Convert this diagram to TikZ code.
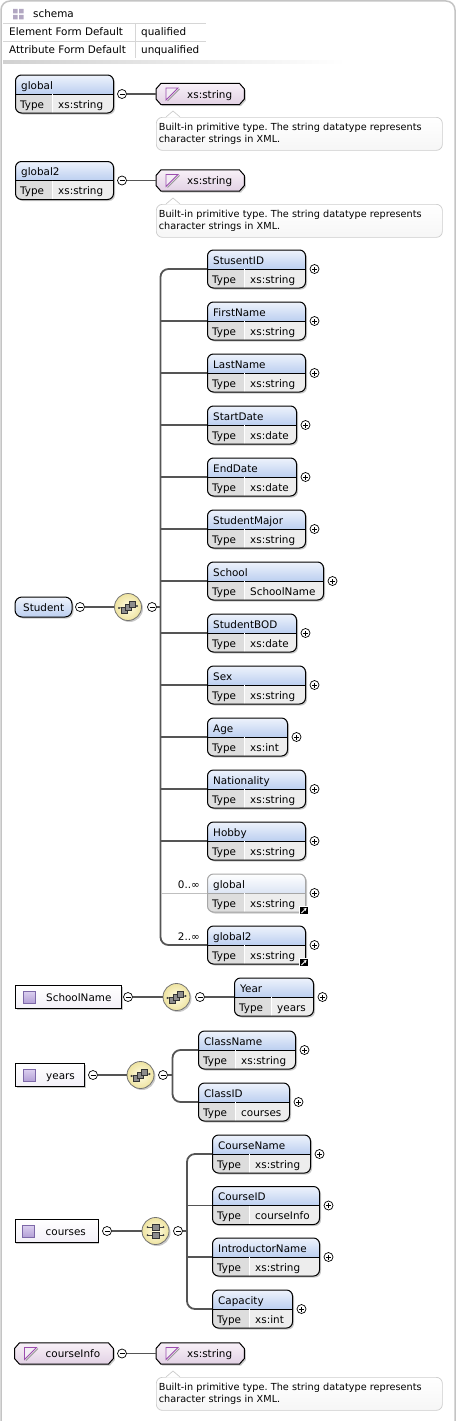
\documentclass[tikz,border=0pt]{standalone}
\usepackage{fontspec}
\setmainfont{DejaVu Sans}
\usepackage{tikz}
\usetikzlibrary{arrows.meta,shadows}
\frenchspacing

\definecolor{headtop}{HTML}{EEF3FC}
\definecolor{headbot}{HTML}{BCCFF0}
\definecolor{refbot}{HTML}{DCE5F4}
\definecolor{typecell}{HTML}{DDDDDD}
\definecolor{valcell}{HTML}{EDEDED}
\definecolor{conngray}{HTML}{555555}
\definecolor{hextop}{HTML}{F8F1F8}
\definecolor{hexbot}{HTML}{E2D1E4}
\definecolor{tripurple}{HTML}{9B4DAE}
\definecolor{cticontop}{HTML}{DCD0F0}
\definecolor{cticonbot}{HTML}{B3A0D6}
\definecolor{cticonline}{HTML}{7D68A8}
\definecolor{ctbot}{HTML}{F3F0F8}
\definecolor{tipline}{HTML}{CCCCCC}
\definecolor{tipbot}{HTML}{F6F6F6}
\definecolor{framegray}{HTML}{C4C4C4}
\definecolor{tablegray}{HTML}{D6D6D6}
\definecolor{compin}{HTML}{FFFCE4}
\definecolor{compout}{HTML}{EEE3A0}
\definecolor{schemaicon}{HTML}{B2A7C2}

\tikzset{
  mydrop/.style={drop shadow={shadow xshift=1.5pt, shadow yshift=-1.5pt, opacity=.35, fill=black!60}},
  lbl/.style={anchor=base west, inner sep=0pt},
  elembase/.style 2 args={draw=black, line width=1pt, rounded corners=6pt, minimum height=38pt,
    inner sep=0pt, anchor=west, mydrop,
    path picture={
      \fill[typecell, sharp corners] (path picture bounding box.south west) rectangle ([xshift=37pt]path picture bounding box.west);
      \fill[valcell, sharp corners] ([xshift=37pt]path picture bounding box.south west) rectangle (path picture bounding box.east);
      \shade[top color=#1, bottom color=#2, sharp corners] (path picture bounding box.north west) rectangle (path picture bounding box.east);
      \draw[line width=.8pt] (path picture bounding box.west) -- (path picture bounding box.east);
      \draw[white, line width=1pt] ([xshift=37pt]path picture bounding box.west) -- ([xshift=37pt]path picture bounding box.south west);
    }},
  elembox/.style={elembase={headtop}{headbot}},
  refbox/.style={elembase={white}{refbot}, draw=black!35},
  pill/.style={draw=black, line width=1pt, rounded corners=7pt, minimum height=20pt, inner sep=0pt,
    anchor=west, top color=headtop, bottom color=headbot, mydrop},
  simple/.style={minimum height=21pt, inner sep=0pt, anchor=west},
  hexline/.style={draw=black, line width=1pt, top color=hextop, bottom color=hexbot, mydrop},
  ctbox/.style={draw=black, line width=.9pt, minimum height=23pt, inner sep=0pt, anchor=west,
    top color=white, bottom color=ctbot, mydrop},
  cticon/.style={draw=cticonline, line width=.6pt, minimum size=12pt, inner sep=0pt,
    top color=cticontop, bottom color=cticonbot},
  sign/.style={circle, draw=black, line width=.7pt, fill=white, minimum size=9pt, inner sep=0pt},
  collapse/.style={sign, path picture={
      \draw[line width=.7pt] ([xshift=-2.5pt]path picture bounding box.center) -- ([xshift=2.5pt]path picture bounding box.center);}},
  expand/.style={sign, path picture={
      \draw[line width=.7pt] ([xshift=-2.5pt]path picture bounding box.center) -- ([xshift=2.5pt]path picture bounding box.center);
      \draw[line width=.7pt] ([yshift=-2.5pt]path picture bounding box.center) -- ([yshift=2.5pt]path picture bounding box.center);}},
  compositor/.style={circle, draw=black!55, line width=.8pt, minimum size=27pt, inner sep=0pt,
    inner color=compin, outer color=compout, mydrop},
  shortcut/.style={fill=black, draw=white, line width=.6pt, minimum size=8.5pt, inner sep=0pt, path picture={
      \draw[white, line width=.9pt, -{Stealth[length=3pt,width=3.5pt]}] ([shift={(-2.5pt,-2.5pt)}]path picture bounding box.center) -- ([shift={(2.5pt,2.5pt)}]path picture bounding box.center);}},
  tipbox/.style={draw=tipline, line width=.7pt, rounded corners=6pt, top color=white, bottom color=tipbot,
    text width=281pt, minimum height=33pt, inner xsep=2.5pt, inner ysep=0pt, align=left,
    font=\fontsize{9.7}{12}\selectfont},
  conn/.style={draw=conngray, line width=1.8pt},
  optconn/.style={draw=black!25, line width=.8pt}
}

% element box: [style]{id}{x}{y}{width}{name}{type}
\newcommand\elem[7][elembox]{%
  \node[#1, minimum width=#5pt] (#2) at (#3,#4) {};
  \node[lbl] (#2-n) at ([xshift=6pt,yshift=5pt]#2.west) {#6};
  \node[lbl] (#2-k) at ([xshift=5pt,yshift=-14pt]#2.west) {Type};
  \node[lbl] (#2-v) at ([xshift=43pt,yshift=-14pt]#2.west) {#7};
}
\newcommand\kid[7][elembox]{%
  \elem[#1]{#2}{#3}{#4}{#5}{#6}{#7}
  \node[expand] (#2-p) at ([xshift=8.5pt]#2.east) {};
}
% simple type: {id}{x}{y}{width}{name}
\newcommand\simpletype[5]{%
  \node[simple, minimum width=#4pt] (#1) at (#2,#3) {};
  \path[hexline] ([xshift=5pt]#1.north west) -- ([xshift=-5pt]#1.north east) -- ([yshift=5pt]#1.east)
    -- ([yshift=-5pt]#1.east) -- ([xshift=-5pt]#1.south east) -- ([xshift=5pt]#1.south west)
    -- ([yshift=-5pt]#1.west) -- ([yshift=5pt]#1.west) -- cycle;
  \filldraw[fill=white!60!hexbot, draw=tripurple, line width=.8pt] ([xshift=10pt,yshift=6pt]#1.west) -- ++(12pt,0) -- ++(-12pt,-12pt) -- cycle;
  \draw[black!40, line width=.8pt] ([xshift=23.5pt,yshift=5pt]#1.west) -- ([xshift=11.5pt,yshift=-7pt]#1.west);
  \node[lbl] (#1-l) at ([xshift=31pt,yshift=-4pt]#1.west) {#5};
}
% complex type: {id}{x}{y}{width}{name}
\newcommand\ctype[5]{%
  \node[ctbox, minimum width=#4pt] (#1) at (#2,#3) {};
  \node[cticon] (#1-i) at ([xshift=14pt]#1.west) {};
  \node[lbl] (#1-l) at ([xshift=31pt,yshift=-4pt]#1.west) {#5};
}
\newcommand\tipnote[3]{%
  \node[tipbox, anchor=north west] (#1) at (#2,#3) {Built-in primitive type. The string datatype represents\\character strings in XML.};
  \fill[white] ([xshift=10pt,yshift=-.6pt]#1.north west) -- ([xshift=17pt,yshift=6pt]#1.north west) -- ([xshift=24pt,yshift=-.6pt]#1.north west) -- cycle;
  \draw[tipline, line width=.7pt] ([xshift=10pt]#1.north west) -- ([xshift=17pt,yshift=6pt]#1.north west) -- ([xshift=24pt]#1.north west);
}
\newcommand\seqicon[1]{%
  \begin{scope}[shift={(#1.center)}]
    \draw[black!75, line width=.7pt] (-9,1) -- (9,-1);
    \fill[black!75] (-9,1) circle (1.2pt) (9,-1) circle (1.2pt);
    \filldraw[fill=black!45, draw=black!80, line width=.5pt] (-7,0) rectangle (-1,6);
    \filldraw[fill=black!45, draw=black!80, line width=.5pt] (-3,-3) rectangle (3,3);
    \filldraw[fill=black!45, draw=black!80, line width=.5pt] (1,-6) rectangle (7,0);
  \end{scope}}
\newcommand\allicon[1]{%
  \begin{scope}[shift={(#1.center)}]
    \draw[black!75, line width=.7pt] (-8,-4) -- (8,-4) (-8,4) -- (8,4);
    \filldraw[fill=black!45, draw=black!80, line width=.5pt] (-3.5,-7) rectangle (3.5,-1) (-3.5,1) rectangle (3.5,7);
    \fill[black!75] (-8,-4) circle (1pt) (8,-4) circle (1pt) (-8,4) circle (1pt) (8,4) circle (1pt);
  \end{scope}}

\begin{document}
\begin{tikzpicture}[x=1pt, y=-1pt, font=\fontsize{10.4}{12.5}\selectfont]
  \useasboundingbox (0,0) rectangle (458,1421);
  \draw[framegray, line width=1.5pt, rounded corners=9pt] (1,1421) -- (1,1) -- (455,1) -- (455,1421);

  % schema header
  \fill[schemaicon] (13,9) rectangle (17.5,13.5) (19,9) rectangle (23.5,13.5) (13,15) rectangle (17.5,19.5) (19,15) rectangle (23.5,19.5);
  \node[lbl] (sch) at (33,17.5) {schema};
  \draw[tablegray, line width=.8pt] (3,23.5) -- (206,23.5);
  \draw[tablegray, line width=.8pt] (3,41.5) -- (206,41.5);
  \draw[tablegray, line width=.8pt] (135,23.5) -- (135,58);
  \node[lbl] (efd) at (9,36) {Element Form Default};
  \node[lbl] (efv) at (141,36) {qualified};
  \node[lbl] (afd) at (9,54) {Attribute Form Default};
  \node[lbl] (afv) at (141,54) {unqualified};
  \shade[left color=black!18, right color=white] (3,61) rectangle (345,63.5);

  % global
  \elem{gl}{15}{94}{98}{global}{xs:string}
  \node[collapse] (gl-m) at (122,94) {};
  \simpletype{gl-t}{156}{94}{88}{xs:string}
  \draw[conn] (gl-m) -- (gl-t);
  \tipnote{gl-d}{156}{117}

  % global2
  \elem{gl2}{15}{180.5}{98}{global2}{xs:string}
  \node[collapse] (gl2-m) at (122,180.5) {};
  \simpletype{gl2-t}{156}{180.5}{88}{xs:string}
  \draw[conn] (gl2-m) -- (gl2-t);
  \tipnote{gl2-d}{156}{204}

  % Student
  \node[pill, minimum width=57pt] (stu) at (14.5,607) {};
  \node[lbl] (stu-l) at ([xshift=8.5pt,yshift=-4pt]stu.west) {Student};
  \node[collapse] (stu-m1) at (80,607) {};
  \node[compositor] (stu-c) at (128,607) {};
  \seqicon{stu-c}
  \node[collapse] (stu-m2) at (152,607) {};
  \coordinate (sp) at (160.5,607);
  \kid{sid}{207}{269}{98}{StusentID}{xs:string}
  \kid{fn}{207}{321}{98}{FirstName}{xs:string}
  \kid{ln}{207}{373}{98}{LastName}{xs:string}
  \kid{sd}{207}{425}{89}{StartDate}{xs:date}
  \kid{ed}{207}{477}{89}{EndDate}{xs:date}
  \kid{sm}{207}{529}{98}{StudentMajor}{xs:string}
  \kid{sch}{207}{581}{116}{School}{SchoolName}
  \kid{bod}{207}{633}{89}{StudentBOD}{xs:date}
  \kid{sex}{207}{685}{98}{Sex}{xs:string}
  \kid{age}{207}{737}{80}{Age}{xs:int}
  \kid{nat}{207}{789}{98}{Nationality}{xs:string}
  \kid{hob}{207}{841}{98}{Hobby}{xs:string}
  \kid[refbox]{glr}{207}{893}{98}{global}{xs:string}
  \kid{gl2r}{207}{945}{98}{global2}{xs:string}
  \node[shortcut] (glr-s) at ([xshift=-2pt,yshift=2pt]glr.south east) {};
  \node[shortcut] (gl2r-s) at ([xshift=-2pt,yshift=2pt]gl2r.south east) {};
  \node[lbl, anchor=base east] (glr-o) at ([xshift=-7pt,yshift=5pt]glr.west) {0..∞};
  \node[lbl, anchor=base east] (gl2r-o) at ([xshift=-7pt,yshift=5pt]gl2r.west) {2..∞};
  \draw[conn] (stu-m1) -- (stu-c);
  \draw[conn] (stu-m2) -- (sp);
  \draw[conn, rounded corners=8pt] (sid.west) -| (sp) |- (gl2r.west);
  \draw[conn] (sp |- fn.west) -- (fn.west);
  \draw[conn] (sp |- ln.west) -- (ln.west);
  \draw[conn] (sp |- sd.west) -- (sd.west);
  \draw[conn] (sp |- ed.west) -- (ed.west);
  \draw[conn] (sp |- sm.west) -- (sm.west);
  \draw[conn] (sp |- sch.west) -- (sch.west);
  \draw[conn] (sp |- bod.west) -- (bod.west);
  \draw[conn] (sp |- sex.west) -- (sex.west);
  \draw[conn] (sp |- age.west) -- (age.west);
  \draw[conn] (sp |- nat.west) -- (nat.west);
  \draw[conn] (sp |- hob.west) -- (hob.west);
  \draw[optconn] (sp |- glr.west) -- (glr.west);

  % SchoolName
  \ctype{scn}{15}{997}{106}{SchoolName}
  \node[collapse] (scn-m1) at (128,997) {};
  \node[compositor] (scn-c) at (176.5,997) {};
  \seqicon{scn-c}
  \node[collapse] (scn-m2) at (200,997) {};
  \kid{yr}{234}{997}{79}{Year}{years}
  \draw[conn] (scn-m1) -- (scn-c);
  \draw[conn] (scn-m2) -- (yr);

  % years
  \ctype{yrs}{15}{1075}{69}{years}
  \node[collapse] (yrs-m1) at (93,1075) {};
  \node[compositor] (yrs-c) at (140.5,1075) {};
  \seqicon{yrs-c}
  \node[collapse] (yrs-m2) at (163,1075) {};
  \coordinate (ysp) at (172.5,1075);
  \kid{cn}{198}{1050}{97}{ClassName}{xs:string}
  \kid{cid}{198}{1102}{91}{ClassID}{courses}
  \draw[conn] (yrs-m1) -- (yrs-c);
  \draw[conn] (yrs-m2) -- (ysp);
  \draw[conn, rounded corners=8pt] (cn.west) -| (ysp) |- (cid.west);

  % courses
  \ctype{crs}{14.5}{1231}{83}{courses}
  \node[collapse] (crs-m1) at (107,1231) {};
  \node[compositor] (crs-c) at (155.5,1231) {};
  \allicon{crs-c}
  \node[collapse] (crs-m2) at (178,1231) {};
  \coordinate (csp) at (187,1231);
  \kid{cnm}{212}{1154}{98}{CourseName}{xs:string}
  \kid{cid2}{212}{1205.5}{107}{CourseID}{courseInfo}
  \kid{inm}{212}{1257}{107}{IntroductorName}{xs:string}
  \kid{cap}{212}{1309}{80}{Capacity}{xs:int}
  \draw[conn] (crs-m1) -- (crs-c);
  \draw[conn] (crs-m2) -- (csp);
  \draw[conn, rounded corners=8pt] (cnm.west) -| (csp) |- (cap.west);
  \draw[conn] (csp |- cid2.west) -- (cid2.west);
  \draw[conn] (csp |- inm.west) -- (inm.west);

  % courseInfo
  \simpletype{ci}{14.5}{1353.5}{98.5}{courseInfo}
  \node[collapse] (ci-m) at (122,1353.5) {};
  \simpletype{ci-t}{156}{1353.5}{88}{xs:string}
  \draw[conn] (ci-m) -- (ci-t);
  \tipnote{ci-d}{156}{1377}
\end{tikzpicture}
\end{document}
